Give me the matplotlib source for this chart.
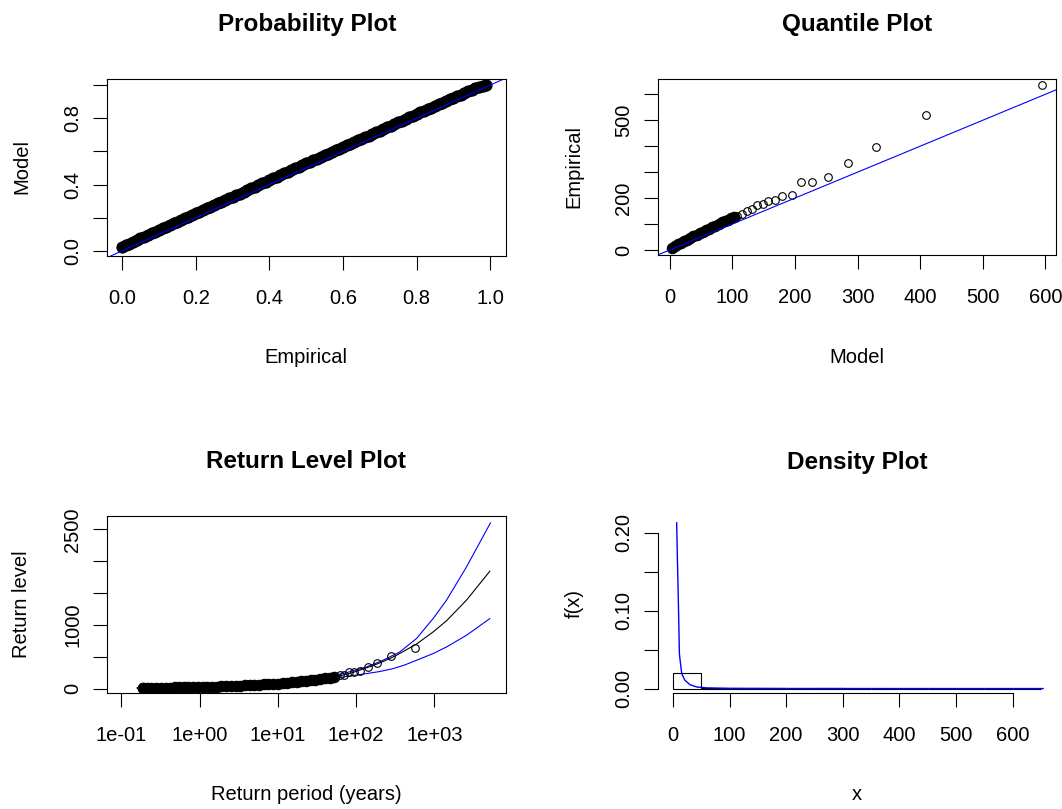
import matplotlib
matplotlib.use("Agg")
import matplotlib.pyplot as plt

plt.rcParams["font.family"] = ["Liberation Sans", "DejaVu Sans"]
plt.rcParams["font.size"] = 14.5

# ---- probability plot (empirical vs fitted non-exceedance probability)
pp_empirical = [0.00, 0.01, 0.02, 0.03, 0.04, 0.05, 0.06, 0.07, 0.08, 0.09,
                0.10, 0.11, 0.12, 0.13, 0.14, 0.15, 0.16, 0.17, 0.18, 0.19,
                0.20, 0.21, 0.22, 0.23, 0.24, 0.25, 0.26, 0.27, 0.28, 0.29,
                0.30, 0.31, 0.32, 0.33, 0.34, 0.35, 0.36, 0.37, 0.38, 0.39,
                0.40, 0.41, 0.42, 0.43, 0.44, 0.45, 0.46, 0.47, 0.48, 0.49,
                0.50, 0.51, 0.52, 0.53, 0.54, 0.55, 0.56, 0.57, 0.58, 0.59,
                0.60, 0.61, 0.62, 0.63, 0.64, 0.65, 0.66, 0.67, 0.68, 0.69,
                0.70, 0.71, 0.72, 0.73, 0.74, 0.75, 0.76, 0.77, 0.78, 0.79,
                0.80, 0.81, 0.82, 0.83, 0.84, 0.85, 0.86, 0.87, 0.88, 0.89,
                0.90, 0.91, 0.92, 0.93, 0.94, 0.95, 0.96, 0.97, 0.98, 0.99]
pp_model = [0.022, 0.033, 0.044, 0.055, 0.065, 0.076, 0.086, 0.096, 0.106, 0.116,
            0.126, 0.137, 0.147, 0.157, 0.166, 0.176, 0.186, 0.197, 0.207, 0.217,
            0.226, 0.236, 0.247, 0.257, 0.267, 0.277, 0.286, 0.296, 0.306, 0.316,
            0.326, 0.336, 0.346, 0.357, 0.367, 0.377, 0.387, 0.397, 0.407, 0.417,
            0.428, 0.438, 0.448, 0.457, 0.467, 0.477, 0.487, 0.498, 0.509, 0.519,
            0.528, 0.538, 0.547, 0.557, 0.567, 0.577, 0.586, 0.596, 0.606, 0.616,
            0.626, 0.636, 0.646, 0.656, 0.666, 0.676, 0.686, 0.696, 0.706, 0.716,
            0.726, 0.736, 0.746, 0.756, 0.766, 0.776, 0.786, 0.796, 0.806, 0.816,
            0.826, 0.836, 0.845, 0.855, 0.865, 0.875, 0.884, 0.894, 0.904, 0.914,
            0.923, 0.933, 0.943, 0.953, 0.962, 0.971, 0.980, 0.988, 0.995, 1.000]

# ---- quantile plot (model quantile vs observed value)
qq_bulk_model = [3, 8, 13, 18, 23, 28, 33, 38, 43, 48, 53, 58, 63, 68, 73,
                 78, 83, 88, 93, 98, 103]
qq_bulk_emp = [9, 15, 22, 28, 34, 40, 46, 52, 58, 64, 70, 76, 82, 88, 94,
               100, 106, 111, 117, 122, 128]
qq_tail_model = [108, 115, 123, 131, 139, 149, 157, 168, 180, 195, 210, 227, 253, 285, 330, 410, 594]
qq_tail_emp = [131, 140, 149, 159, 172, 178, 187, 194, 207, 213, 262, 262, 281, 335, 396, 519, 635]

# ---- return level plot: observed levels against empirical return period
rl_bulk_period = [0.187, 0.19, 0.21, 0.24, 0.28, 0.32, 0.37, 0.42, 0.48, 0.55, 0.63,
                  0.72, 0.83, 0.95, 1.1, 1.25, 1.45, 1.65, 1.9, 2.2, 2.5, 2.9,
                  3.3, 3.8, 4.4, 5.0, 5.8, 6.6, 7.6, 8.7, 10, 11.5, 13.2, 15,
                  17.5, 20, 23, 26.5, 30, 35, 40, 46, 53]
rl_bulk_level = [2, 8, 12, 12, 13, 14, 15, 16, 18, 19, 20,
                 22, 23, 25, 27, 28, 31, 33, 35, 38, 40, 43,
                 46, 49, 53, 57, 61, 65, 70, 75, 80, 86, 92, 98,
                 106, 113, 122, 130, 139, 150, 160, 172, 185]
rl_tail_period = [62.4, 70.3, 80.3, 93.7, 112.4, 140.5, 187, 281, 562]
rl_tail_level = [207, 213, 262, 262, 281, 335, 396, 519, 635]

# fitted return level curve with its confidence band
rl_est_period = [0.16, 0.3, 0.6, 1, 2, 4, 8, 15, 30, 50, 68, 92, 135, 165, 221,
                 298, 362, 592, 966, 1432, 2582, 5129]
rl_estimate = [10, 14, 20, 25, 36, 51, 72, 100, 142, 182, 212, 255, 325, 362, 425,
               497, 552, 700, 890, 1065, 1390, 1844]
rl_up_period = [0.16, 0.3, 0.6, 1, 2, 4, 8, 15, 30, 50, 68, 92, 136, 221, 362,
                592, 966, 1432, 2582, 5224]
rl_upper = [11, 16, 22, 28, 40, 57, 80, 110, 158, 205, 236, 280, 340, 445, 576,
            786, 1100, 1388, 1912, 2604]
rl_lo_period = [0.16, 0.3, 0.6, 1, 2, 4, 8, 15, 30, 50, 68, 136, 200, 298, 420,
                592, 966, 1432, 2582, 5129]
rl_lower = [8, 11, 16, 20, 29, 42, 59, 86, 125, 157, 182, 236, 268, 314, 372,
            445, 550, 654, 838, 1100]

# ---- density plot
hist_edges = [0, 50, 100, 150, 200, 250, 300, 350, 400, 450, 500, 550, 600, 650]
hist_density = [0.0197, 0.0005, 0.0003, 0.0002, 0.0, 0.0004, 0.0, 0.0, 0.0, 0.0, 0.0, 0.0, 0.0]
dens_x = [6.5, 7.7, 9.0, 10.1, 11.3, 12.5, 15.5, 21, 30, 42, 60, 100, 200, 400, 654]
dens_y = [0.213, 0.169, 0.128, 0.090, 0.045, 0.037, 0.019, 0.0107, 0.005, 0.002,
          0.0009, 0.0003, 0.0001, 0.00003, 0.00001]

W, H = 1062, 809
fig = plt.figure(figsize=(W / 100, H / 100), dpi=100)


def panel(x0, y0, x1, y1):
    ax = fig.add_axes([x0 / W, 1 - y1 / H, (x1 - x0) / W, (y1 - y0) / H])
    for s in ax.spines.values():
        s.set_linewidth(0.8)
        s.set_color("black")
    ax.tick_params(direction="out", length=10, width=0.8, color="black")
    ax.tick_params(axis="x", pad=14)
    ax.tick_params(axis="y", pad=8)
    return ax


def label(x, y, s, **kw):
    fig.text(x / W, 1 - y / H, s, ha="center", va="center", **kw)


def yticks(ax, ticks, labels):
    ax.set_yticks(ticks)
    ax.set_yticklabels(labels, rotation=90, va="center")


open_pt = dict(ls="none", marker="o", ms=5.5, mfc="none", mec="black", mew=0.8)
solid_pt = dict(ls="none", marker="o", ms=7.5, mfc="black", mec="black", mew=0.8)

# probability plot
ax1 = panel(107, 79, 506, 256)
ax1.plot(pp_empirical, pp_model, **dict(solid_pt, ms=8))
ax1.axline((0, 0), slope=1, color="blue", lw=0.8)
ax1.set_xlim(-0.041, 1.043)
ax1.set_ylim(-0.031, 1.037)
ax1.set_xticks([0, 0.2, 0.4, 0.6, 0.8, 1.0])
ax1.set_xticklabels(["0.0", "0.2", "0.4", "0.6", "0.8", "1.0"])
yticks(ax1, [0, 0.2, 0.4, 0.6, 0.8, 1.0], ["0.0", "", "0.4", "", "0.8", ""])
label(307, 24, "Probability Plot", fontsize=17.5, fontweight="bold")
label(306, 357, "Empirical")
label(22, 167, "Model", rotation=90)

# quantile plot
ax2 = panel(658, 79, 1056, 255)
ax2.plot(qq_bulk_model, qq_bulk_emp, **solid_pt)
ax2.plot(qq_tail_model, qq_tail_emp, **open_pt)
ax2.axline((0, 0), slope=1, color="blue", lw=0.8)
ax2.set_xlim(-18.7, 617)
ax2.set_ylim(-19.3, 659)
ax2.set_xticks([0, 100, 200, 300, 400, 500, 600])
yticks(ax2, [0, 100, 200, 300, 400, 500, 600], ["0", "", "200", "", "", "500", ""])
label(857, 24, "Quantile Plot", fontsize=17.5, fontweight="bold")
label(857, 357, "Model")
label(574, 167, "Empirical", rotation=90)

# return level plot
ax3 = panel(107, 516, 506, 693)
ax3.set_xscale("log")
ax3.plot(rl_up_period, rl_upper, color="blue", lw=0.8)
ax3.plot(rl_lo_period, rl_lower, color="blue", lw=0.8)
ax3.plot(rl_est_period, rl_estimate, color="black", lw=0.8)
ax3.plot(rl_bulk_period, rl_bulk_level, **solid_pt)
ax3.plot(rl_tail_period, rl_tail_level, **open_pt)
ax3.set_xlim(0.0655, 8260)
ax3.set_ylim(-69, 2712)
ax3.set_xticks([0.1, 1, 10, 100, 1000])
ax3.set_xticklabels(["1e-01", "1e+00", "1e+01", "1e+02", "1e+03"])
ax3.minorticks_off()
yticks(ax3, [0, 500, 1000, 1500, 2000, 2500], ["0", "", "1000", "", "", "2500"])
label(306, 462, "Return Level Plot", fontsize=17.5, fontweight="bold")
label(306, 795, "Return period (years)")
label(22, 604, "Return level", rotation=90)

# density plot: histogram of the data with the fitted density
ax4 = panel(658, 516, 1056, 693)
ax4.bar(hist_edges[:-1], hist_density, width=50, align="edge",
        fill=False, edgecolor="black", linewidth=0.8)
ax4.plot(dens_x, dens_y, color="blue", lw=1.0)
ax4.set_xlim(-26.5, 676.8)
ax4.set_ylim(-0.0057, 0.2218)
ax4.spines["top"].set_visible(False)
ax4.spines["right"].set_visible(False)
ax4.spines["left"].set_bounds(0, 0.2)
ax4.spines["bottom"].set_bounds(0, 600)
ax4.set_xticks([0, 100, 200, 300, 400, 500, 600])
yticks(ax4, [0, 0.05, 0.10, 0.15, 0.20], ["0.00", "", "0.10", "", "0.20"])
label(857, 462, "Density Plot", fontsize=17.5, fontweight="bold")
label(857, 795, "x")
label(574, 604, "f(x)", rotation=90)

fig.savefig("out.png", dpi=100)
